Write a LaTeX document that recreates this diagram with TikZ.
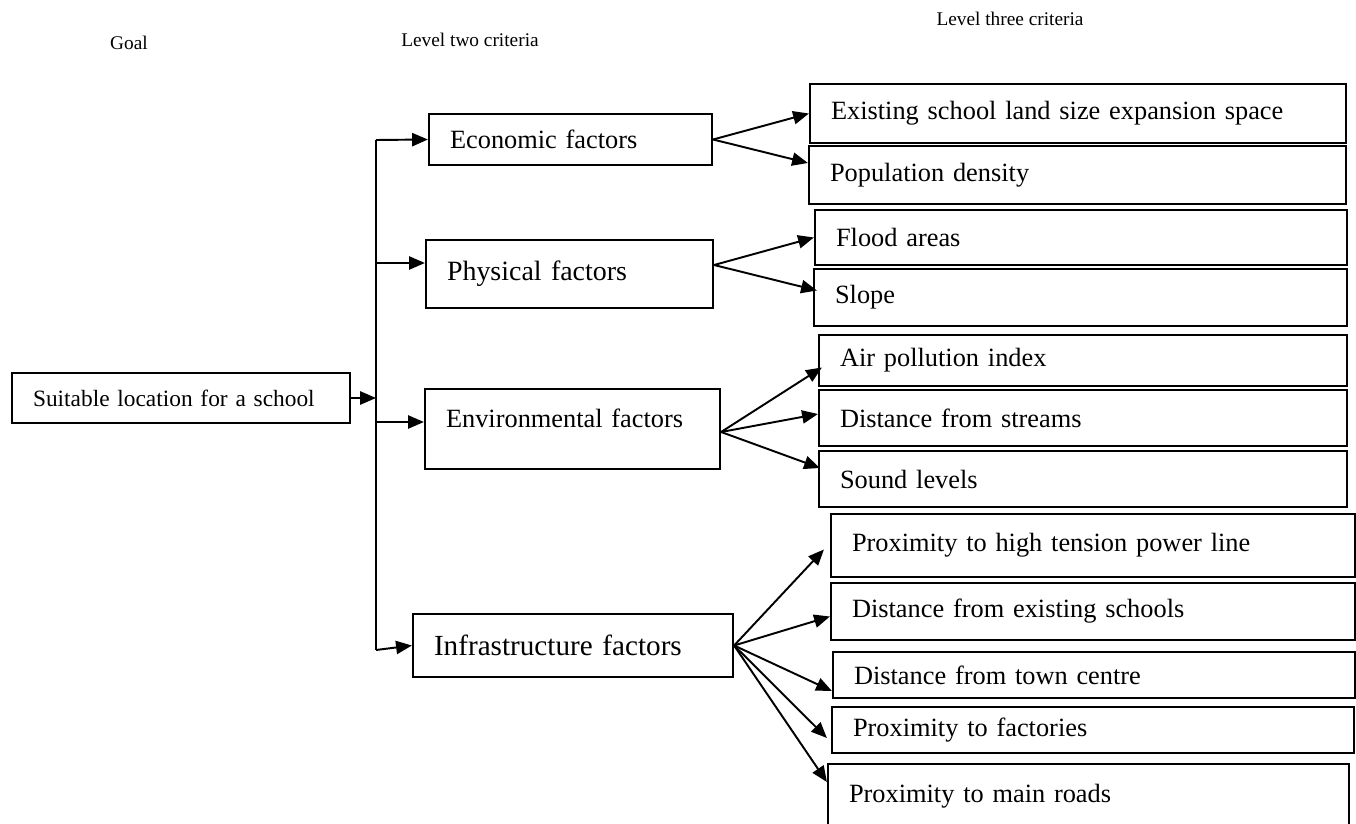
\documentclass[tikz,border=0pt]{standalone}
\usepackage{fontspec}
\setmainfont{Liberation Serif}
\usepackage{xcolor}
\usetikzlibrary{calc, arrows.meta}

\begin{document}
\begin{tikzpicture}[x=0.02cm, y=-0.02cm, >={Triangle[length=9pt, width=7.5pt]},
    box/.style={draw, line width=1.3pt, align=left, inner xsep=0.42cm, inner ysep=0pt},
    crit/.style={box, font=\fontsize{15}{18}\selectfont},
    head/.style={font=\fontsize{11}{13}\selectfont},
    link/.style={->, line width=1.1pt},
    trunk/.style={line width=0.8pt}]

\useasboundingbox (0,0) rectangle (1356,824);

% === Column headings ===
\node[head] (hgoal) at (129,43) {Goal};
\node[head] (htwo) at (470,40) {Level two criteria};
\node[head] (hthree) at (1010,19) {Level three criteria};

% === Goal ===
\node[box, font=\fontsize{13.3}{16}\selectfont, text width=5.92cm, minimum height=1.0cm]
    (goal) at (181,398) {Suitable location for a school};

% === Level two criteria ===
\node[crit, text width=4.82cm, minimum height=1.02cm] (econ) at (570.5,139.5) {Economic factors};
\node[crit, font=\fontsize{15.9}{19}\selectfont, text width=4.90cm, minimum height=1.36cm]
    (phys) at (569.5,274) {Physical factors};
\node[crit, text width=5.06cm, minimum height=1.60cm, text depth=0.45cm]
    (env) at (572.5,429) {Environmental factors};
\node[crit, font=\fontsize{16.6}{20}\selectfont, text width=5.56cm, minimum height=1.26cm]
    (infra) at (573,645.5) {Infrastructure factors};

% === Level three criteria ===
\node[crit, text width=9.88cm, minimum height=1.18cm] (exist) at (1078,113.5) {Existing school land size expansion space};
\node[crit, text width=9.90cm, minimum height=1.16cm] (pop) at (1077.5,175) {Population density};

\node[crit, text width=9.80cm, minimum height=1.10cm] (flood) at (1081,237.5) {Flood areas};
\node[crit, text width=9.82cm, minimum height=1.14cm] (slope) at (1080.5,297.5) {Slope};

\node[crit, text width=9.72cm, minimum height=1.02cm] (air) at (1083,360.5) {Air pollution index};
\node[crit, text width=9.72cm, minimum height=1.12cm] (stream) at (1083,418) {Distance from streams};
\node[crit, text width=9.72cm, minimum height=1.12cm] (sound) at (1083,479) {Sound levels};

\node[crit, text width=9.64cm, minimum height=1.26cm] (power) at (1093,545.5) {Proximity to high tension power line};
\node[crit, text width=9.64cm, minimum height=1.14cm] (school) at (1093,611.5) {Distance from existing schools};
\node[crit, text width=9.60cm, minimum height=0.92cm] (town) at (1094,675) {Distance from town centre};
\node[crit, text width=9.60cm, minimum height=0.92cm] (fact) at (1093,730) {Proximity to factories};
\node[crit, text width=9.58cm, minimum height=1.28cm] (road) at (1088.5,796) {Proximity to main roads};

% === Trunk from the goal to the level two criteria ===
\coordinate (btop) at (376,140);
\coordinate (bgoal) at (376,398);
\coordinate (bphys) at (376,263);
\coordinate (benv) at (376,422);
\coordinate (bbot) at (376,650);
\draw[trunk] (btop) -- (bbot);
\draw[link] (goal) -- (bgoal);
\draw[link] (btop) -- (econ.west);
\draw[link] (bphys) -- ($(phys.west)+(0,-11)$);
\draw[link] (benv) -- ($(env.west)+(0,-7)$);
\draw[link] (bbot) -- (infra.west);

% === Level two to level three ===
\draw[link] (econ.east) -- (exist.west);
\draw[link] (econ.east) -- ($(pop.west)+(0,-12)$);

\draw[link] ($(phys.east)+(0,-9)$) -- (flood.west);
\draw[link] ($(phys.east)+(0,-9)$) -- ($(slope.west)+(4,-7)$);

\draw[link] ($(env.east)+(0,3)$) -- ($(air.west)+(4,7)$);
\draw[link] ($(env.east)+(0,3)$) -- ($(stream.west)+(0,-4)$);
\draw[link] ($(env.east)+(0,3)$) -- ($(sound.west)+(2,-11)$);

\draw[link] (infra.east) -- ($(power.west)+(-6,4)$);
\draw[link] (infra.east) -- ($(school.west)+(0,5)$);
\draw[link] (infra.east) -- ($(town.west)+(0,16)$);
\draw[link] (infra.east) -- ($(fact.west)+(-4,8)$);
\draw[link] (infra.east) -- ($(road.west)+(0,-14)$);

\end{tikzpicture}
\end{document}
